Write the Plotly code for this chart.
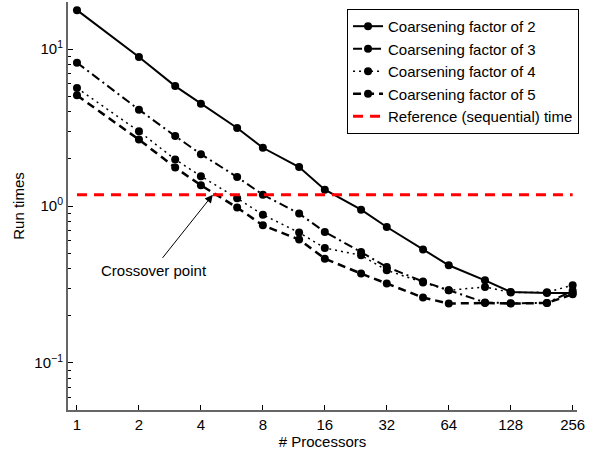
import plotly.graph_objects as go
import math

processors = [1, 2, 3, 4, 6, 8, 12, 16, 24, 32, 48, 64, 96, 128, 192, 256]
factor2 = [17.7, 8.9, 5.81, 4.49, 3.14, 2.35, 1.77, 1.27, 0.948, 0.735, 0.528, 0.419, 0.336, 0.283, 0.279, 0.279]
factor3 = [8.19, 4.11, 2.79, 2.14, 1.53, 1.18, 0.895, 0.683, 0.509, 0.409, 0.330, 0.290, 0.243, 0.240, 0.241, 0.288]
factor4 = [5.65, 2.99, 1.98, 1.55, 1.12, 0.88, 0.677, 0.540, 0.485, 0.389, 0.326, 0.290, 0.305, 0.281, 0.282, 0.313]
factor5 = [5.07, 2.65, 1.76, 1.355, 0.977, 0.753, 0.611, 0.462, 0.371, 0.321, 0.261, 0.239, 0.241, 0.239, 0.241, 0.274]
reference_time = 1.18

x_ticks = [1, 2, 4, 8, 16, 32, 64, 128, 256]
x_ticktext = ["1", "2", "4", "8", "16", "32", "64", "128", "256"]
y_ticks = [0.1, 1, 10]
y_ticktext = ["10<sup>\u22121</sup>", "10<sup>0</sup>", "10<sup>1</sup>"]
y_minor = [m * 10 ** d for d in (-2, -1, 0, 1) for m in range(2, 10)]

series = [
    ("Coarsening factor of 2", factor2, "solid", 2),
    ("Coarsening factor of 3", factor3, "9px,4px,2px,4px", 2),
    ("Coarsening factor of 4", factor4, "2px,4px", 1.5),
    ("Coarsening factor of 5", factor5, "8px,5px", 2.5),
]

FONT = "Liberation Sans, Arial, Helvetica, sans-serif"

fig = go.Figure()
for name, vals, dash, w in series:
    fig.add_trace(go.Scatter(
        x=processors, y=vals, name=name, mode="lines+markers",
        line=dict(color="black", width=w, dash=dash),
        marker=dict(symbol="circle", size=8, color="black"),
    ))

fig.add_trace(go.Scatter(
    x=[processors[0], processors[-1]], y=[reference_time, reference_time],
    name="Reference (sequential) time", mode="lines",
    line=dict(color="#ff0000", width=3, dash="10px,7px"),
))

# Crossover annotation
fig.add_annotation(
    x=math.log10(4.57), y=math.log10(reference_time),
    ax=math.log10(2.57), ay=math.log10(0.457),
    xref="x", yref="y", axref="x", ayref="y",
    text="", showarrow=True, arrowhead=2, arrowsize=1.6, arrowwidth=1, arrowcolor="black",
)
fig.add_annotation(
    x=math.log10(2.365), y=math.log10(0.39), xref="x", yref="y",
    text="Crossover point", showarrow=False,
    font=dict(family=FONT, size=15, color="black"),
)

axis_font = dict(family=FONT, size=15, color="black")
fig.update_layout(
    width=595, height=453,
    margin=dict(l=68, r=18, t=2, b=43),
    paper_bgcolor="white", plot_bgcolor="white",
    font=axis_font,
    showlegend=True,
    legend=dict(
        x=1.004, y=0.983, xanchor="right", yanchor="top",
        bgcolor="white", bordercolor="black", borderwidth=1,
        font=dict(family=FONT, size=15, color="black"),
        tracegroupgap=0, itemwidth=30,
    ),
    xaxis=dict(
        type="log",
        range=[-0.145 * math.log10(2), 8.07 * math.log10(2)],
        tickmode="array", tickvals=x_ticks, ticktext=x_ticktext,
        ticks="inside", ticklen=5, tickcolor="black",
        showline=True, linecolor="#666666", linewidth=2,
        showgrid=False, zeroline=False, mirror=False,
        title=dict(text="# Processors", standoff=2, font=dict(family=FONT, size=15)),
    ),
    yaxis=dict(
        type="log",
        range=[-1.30, 1.30],
        tickmode="array", tickvals=y_ticks, ticktext=y_ticktext,
        ticks="inside", ticklen=5, tickcolor="black",
        minor=dict(tickmode="array", tickvals=y_minor, ticks="inside", ticklen=3, tickcolor="black"),
        showline=True, linecolor="#666666", linewidth=2,
        showgrid=False, zeroline=False, mirror=False,
        title=dict(text="Run times", standoff=6, font=dict(family=FONT, size=15)),
    ),
)

fig.write_html("out.html", config={"displayModeBar": False},
               post_script="document.body.style.margin='0';")
